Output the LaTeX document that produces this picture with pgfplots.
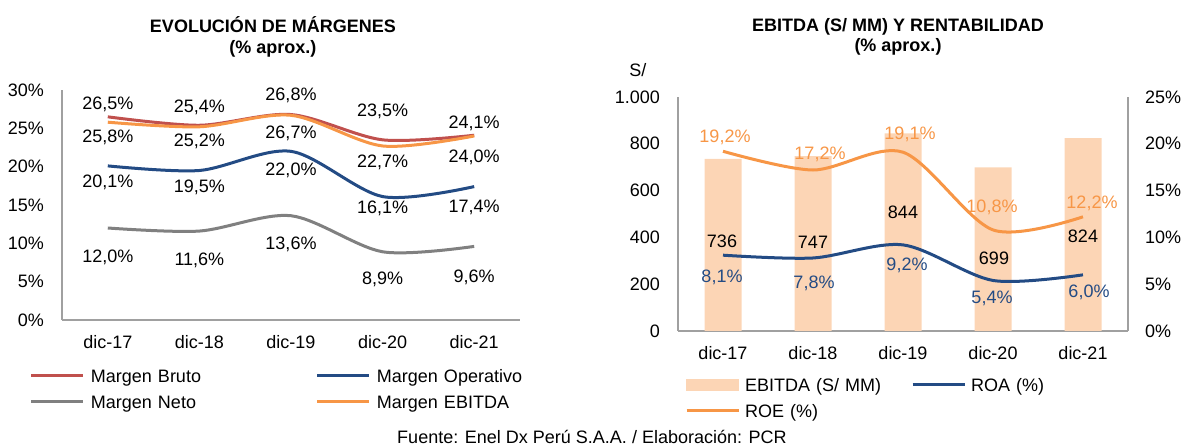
\documentclass[border=0pt]{standalone}
\usepackage{fontspec}
\setmainfont{Liberation Sans}
\usepackage{pgfplots}
\usepackage{pgfplotstable}
\pgfplotsset{compat=1.18}

\definecolor{cBruto}{HTML}{C0504D}
\definecolor{cOper}{HTML}{234B84}
\definecolor{cNeto}{HTML}{808080}
\definecolor{cEbitda}{HTML}{F79646}
\definecolor{cBar}{HTML}{FCD5B5}
\definecolor{cAxis}{HTML}{A0A0A0}

\newcommand{\fs}{\fontsize{18pt}{21pt}\selectfont}
\newcommand{\fst}{\fontsize{18pt}{20.5pt}\selectfont\bfseries}

\pgfplotstableread{
x bruto dbr oper dop neto dne ebit deb
0 26.5 12   20.1 -16   12.0 -29 25.8 -15
1 25.4 18   19.5 -16.5 11.6 -29 25.2 -15
2 26.8 19.5 22.0 -19   13.6 -29 26.7 -18
3 23.5 28   16.1 -11.5 8.9  -28 22.7 -16
4 24.1 12   17.4 -20.5 9.6  -31 24.0 -21
}\margenes

\pgfplotstableread{
x ebitda deb dxb roa dra dxa roe dre dxe
0 736 -83   -1 8.1 -22   -1 19.2 14  2
1 747 -86    0 7.8 -25    1 17.2 16  7
2 844 -78.5  0 9.2 -20    4 19.1 18  7
3 699 -91    1 5.4 -17.5 -1 10.8 23 -1
4 824 -98    0 6.0 -18    6 12.2 13  9
}\rent

\pgfplotsset{
  pctlab/.style={
    visualization depends on={\thisrow{#1} \as \labdy},
    nodes near coords={\pgfmathprintnumber[assume math mode=true,fixed,fixed zerofill,precision=1,use comma]{\pgfplotspointmeta}\%},
    every node near coord/.append style={anchor=center, yshift=\labdy pt, font=\fs, inner sep=0pt, text=black},
  },
  pctlabx/.style 2 args={
    visualization depends on={\thisrow{#1} \as \labdy},
    visualization depends on={\thisrow{#2} \as \labdx},
    nodes near coords={\pgfmathprintnumber[assume math mode=true,fixed,fixed zerofill,precision=1,use comma]{\pgfplotspointmeta}\%},
    every node near coord/.append style={anchor=center, yshift=\labdy pt, xshift=\labdx pt, font=\fs, inner sep=0pt},
  },
  base/.style={
    scale only axis,
    anchor=south west,
    xmin=-0.5, xmax=4.5,
    clip=false,
    axis line style={draw=cAxis, line width=1.3pt, -},
    major tick length=0pt,
    tick style={draw=none},
    ticklabel style={font=\fs},
    xtick={0,...,4},
    xticklabels={dic-17,dic-18,dic-19,dic-20,dic-21},
    xticklabel style={anchor=north, inner sep=0pt, yshift=-15pt},
    legend image code/.code={\draw[##1, line width=3pt] (0pt,0pt) -- (52pt,0pt);},
    legend cell align=left,
  },
}

\begin{document}
\begin{tikzpicture}
\path[use as bounding box] (0pt,0pt) rectangle (1184pt,446pt);

% Titles
\node[font=\fst, align=center] at (273pt,409pt) {EVOLUCIÓN DE MÁRGENES\\(\% aprox.)};
\node[font=\fst, align=center] at (898pt,409pt) {EBITDA (S/ MM) Y RENTABILIDAD\\(\% aprox.)};
\node[font=\fs] at (592pt,9pt) {Fuente: Enel Dx Perú S.A.A. / Elaboración: PCR};

% Left chart
\begin{axis}[base,
  at={(62pt,126pt)}, width=458pt, height=230pt,
  ymin=0, ymax=30,
  axis x line*=bottom, axis y line*=left,
  ytick={0,5,10,15,20,25,30},
  yticklabels={0\%,5\%,10\%,15\%,20\%,25\%,30\%},
  yticklabel style={anchor=east, inner sep=0pt, xshift=-18pt},
  legend columns=2,
  legend style={draw=none, fill=none, inner sep=0pt, outer sep=0pt,
    at={(-0.0699,-0.215)}, anchor=north west,
    column sep=6pt, row sep=13pt,
    nodes={inner sep=0pt, text width=219pt, align=left, anchor=west, text height=13pt, text depth=0pt, font=\fs}},
]
\addplot[cBruto, line width=3pt, smooth, pctlab=dbr] table[x=x,y=bruto]{\margenes};
\addlegendentry{Margen Bruto}
\addplot[cOper, line width=3pt, smooth, pctlab=dop] table[x=x,y=oper]{\margenes};
\addlegendentry{Margen Operativo}
\addplot[cNeto, line width=3pt, smooth, pctlab=dne] table[x=x,y=neto]{\margenes};
\addlegendentry{Margen Neto}
\addplot[cEbitda, line width=3pt, smooth, pctlab=deb] table[x=x,y=ebit]{\margenes};
\addlegendentry{Margen EBITDA}
\end{axis}

% Right chart: bars
\begin{axis}[base,
  at={(678pt,115pt)}, width=450pt, height=234pt,
  ymin=0, ymax=1000,
  axis x line*=bottom, axis y line*=left,
  ytick={0,200,400,600,800,1000},
  yticklabels={0,200,400,600,800,1.000},
  yticklabel style={anchor=east, inner sep=0pt, xshift=-18pt},
  ybar, bar width=37pt,
]
\addplot[fill=cBar, draw=none,
  visualization depends on={\thisrow{deb} \as \labdy},
  visualization depends on={\thisrow{dxb} \as \labdx},
  nodes near coords={\pgfmathprintnumber[assume math mode=true,fixed,precision=0]{\pgfplotspointmeta}},
  every node near coord/.append style={anchor=center, yshift=\labdy pt, xshift=\labdx pt, font=\fs, inner sep=0pt, text=black},
] table[x=x,y=ebitda]{\rent};
\node[font=\fs] at (rel axis cs:-0.089,1.115) {S/};
\end{axis}

% Right chart: lines
\begin{axis}[base,
  at={(678pt,115pt)}, width=450pt, height=234pt,
  ymin=0, ymax=25,
  axis x line=none, axis y line*=right,
  xticklabels={},
  ytick={0,5,10,15,20,25},
  yticklabels={0\%,5\%,10\%,15\%,20\%,25\%},
  yticklabel style={anchor=west, inner sep=0pt, xshift=17pt},
  legend columns=2,
  legend style={draw=none, fill=none, inner sep=0pt, outer sep=0pt,
    at={(0.0156,-0.203)}, anchor=north west,
    column sep=5pt, row sep=13pt,
    nodes={inner sep=0pt, text width=161pt, align=left, anchor=west, text height=13pt, text depth=0pt, font=\fs}},
]
\addlegendimage{legend image code/.code={\fill[cBar] (0pt,-5.5pt) rectangle (52pt,5.5pt);}}
\addlegendentry{EBITDA (S/ MM)}
\addplot[cOper, line width=3pt, smooth, pctlabx={dra}{dxa}, every node near coord/.append style={text=cOper}] table[x=x,y=roa]{\rent};
\addlegendentry{ROA (\%)}
\addplot[cEbitda, line width=3pt, smooth, pctlabx={dre}{dxe}, every node near coord/.append style={text=cEbitda}] table[x=x,y=roe]{\rent};
\addlegendentry{ROE (\%)}
\end{axis}
\end{tikzpicture}
\end{document}
